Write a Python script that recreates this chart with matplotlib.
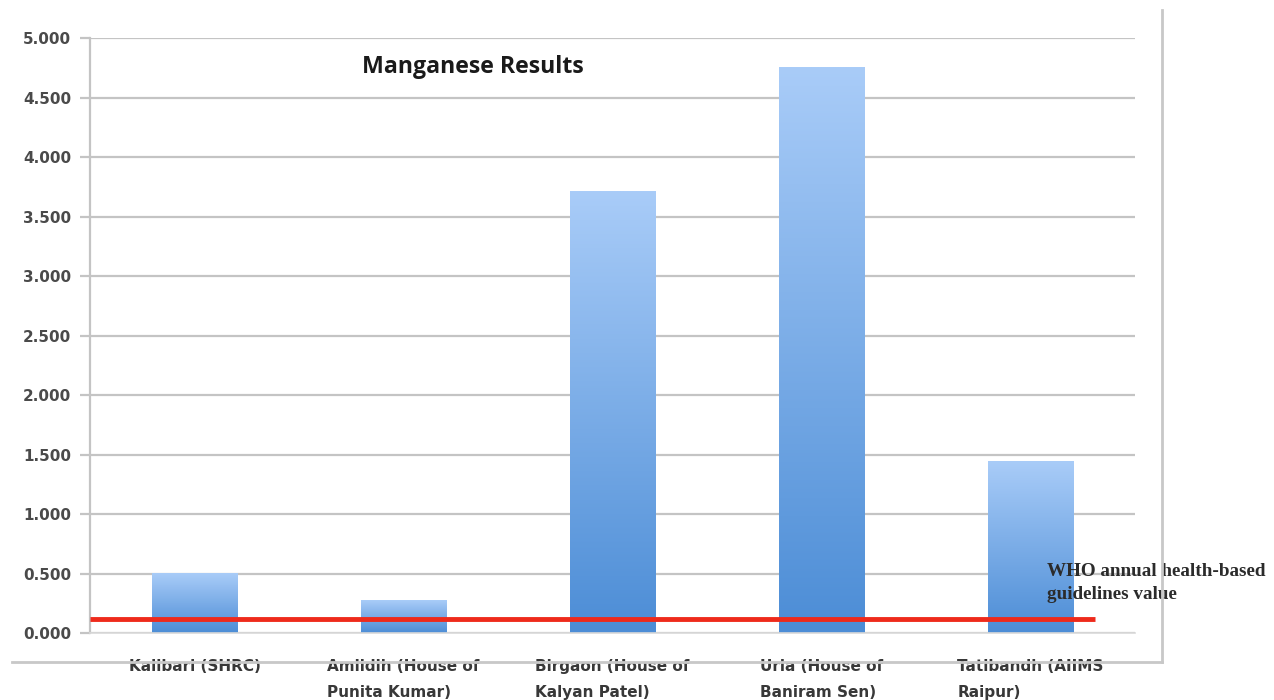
"""Manganese concentration by sampling site, with the WHO guideline line."""

import matplotlib.pyplot as plt
import numpy as np
from matplotlib.colors import LinearSegmentedColormap
from matplotlib.lines import Line2D

sites = [
    "Kalibari (SHRC)",
    "Amlidih (House of\nPunita Kumar)",
    "Birgaon (House of\nKalyan Patel)",
    "Urla (House of\nBaniram Sen)",
    "Tatibandh (AIIMS\nRaipur)",
]
manganese = [0.50, 0.27, 3.71, 4.75, 1.44]
who_guideline = 0.12
y_ticks = [0.0, 0.5, 1.0, 1.5, 2.0, 2.5, 3.0, 3.5, 4.0, 4.5, 5.0]

GRID = "#c4c4c4"
TEXT = "#4a4a4a"
bar_cmap = LinearSegmentedColormap.from_list("bar_fade", ["#4c8dd6", "#a9ccf8"])

fig = plt.figure(figsize=(12.74, 7.0), dpi=100)
ax = fig.add_axes([0.0706, 0.0957, 0.8203, 0.85])

x = np.arange(len(sites))
width = 0.41
bars = ax.bar(x, manganese, width=width, color="none", edgecolor="none", zorder=2)

# vertical fade inside every bar, dark at the base
grad = np.linspace(0, 1, 256).reshape(-1, 1)
for bar in bars:
    x0 = bar.get_x()
    h = bar.get_height()
    ax.imshow(grad, cmap=bar_cmap, origin="lower", aspect="auto",
              extent=[x0, x0 + bar.get_width(), 0, h], zorder=2)

ax.plot([-0.5, 4.31], [who_guideline, who_guideline], color="#ee2a1b",
        linewidth=3.5, solid_capstyle="butt", zorder=3)

ax.set_xlim(-0.5, 4.5)
ax.set_ylim(0, 5)
ax.set_yticks(y_ticks)
ax.set_yticklabels([f"{v:.3f}" for v in y_ticks])
ax.set_xticks(x)
ax.set_xticklabels(sites, multialignment="left")

ax.yaxis.grid(True, color=GRID, linewidth=1.6, zorder=0)
ax.set_axisbelow(True)
for side in ("top", "right"):
    ax.spines[side].set_visible(False)
ax.spines["left"].set_color(GRID)
ax.spines["left"].set_linewidth(1.6)
ax.spines["bottom"].set_color("#d9d9d9")
ax.spines["bottom"].set_linewidth(1.2)

ax.tick_params(axis="y", direction="out", length=7, width=1.6, color=GRID,
               labelsize=11, labelcolor=TEXT, pad=6.5)
ax.tick_params(axis="x", length=0, labelsize=11, labelcolor="#383838", pad=18.5)
for lbl in ax.get_yticklabels() + ax.get_xticklabels():
    lbl.set_fontfamily("DejaVu Sans")
    lbl.set_fontweight("bold")
for lbl in ax.get_xticklabels():
    lbl.set_linespacing(1.9)

ax.text(0.80, 4.76, "Manganese Results", fontsize=16.7, fontweight="bold",
        family="Open Sans", color="#1a1a1a", va="center", ha="left")
ax.text(4.08, 0.418, "WHO annual health-based\nguidelines value",
        fontsize=13.8, fontweight="bold", family="Liberation Serif",
        color="#2b2b2b", ha="left", va="center", linespacing=1.45,
        clip_on=False)

# outer frame of the chart area
fig.add_artist(Line2D([12 / 1274, 1162 / 1274], [1 - 662 / 700, 1 - 662 / 700],
                      color="#c8c8c8", linewidth=2))
fig.add_artist(Line2D([1162 / 1274, 1162 / 1274], [1 - 10 / 700, 1 - 662 / 700],
                      color="#c8c8c8", linewidth=2))

fig.savefig("out.png", dpi=100)
plt.close(fig)
